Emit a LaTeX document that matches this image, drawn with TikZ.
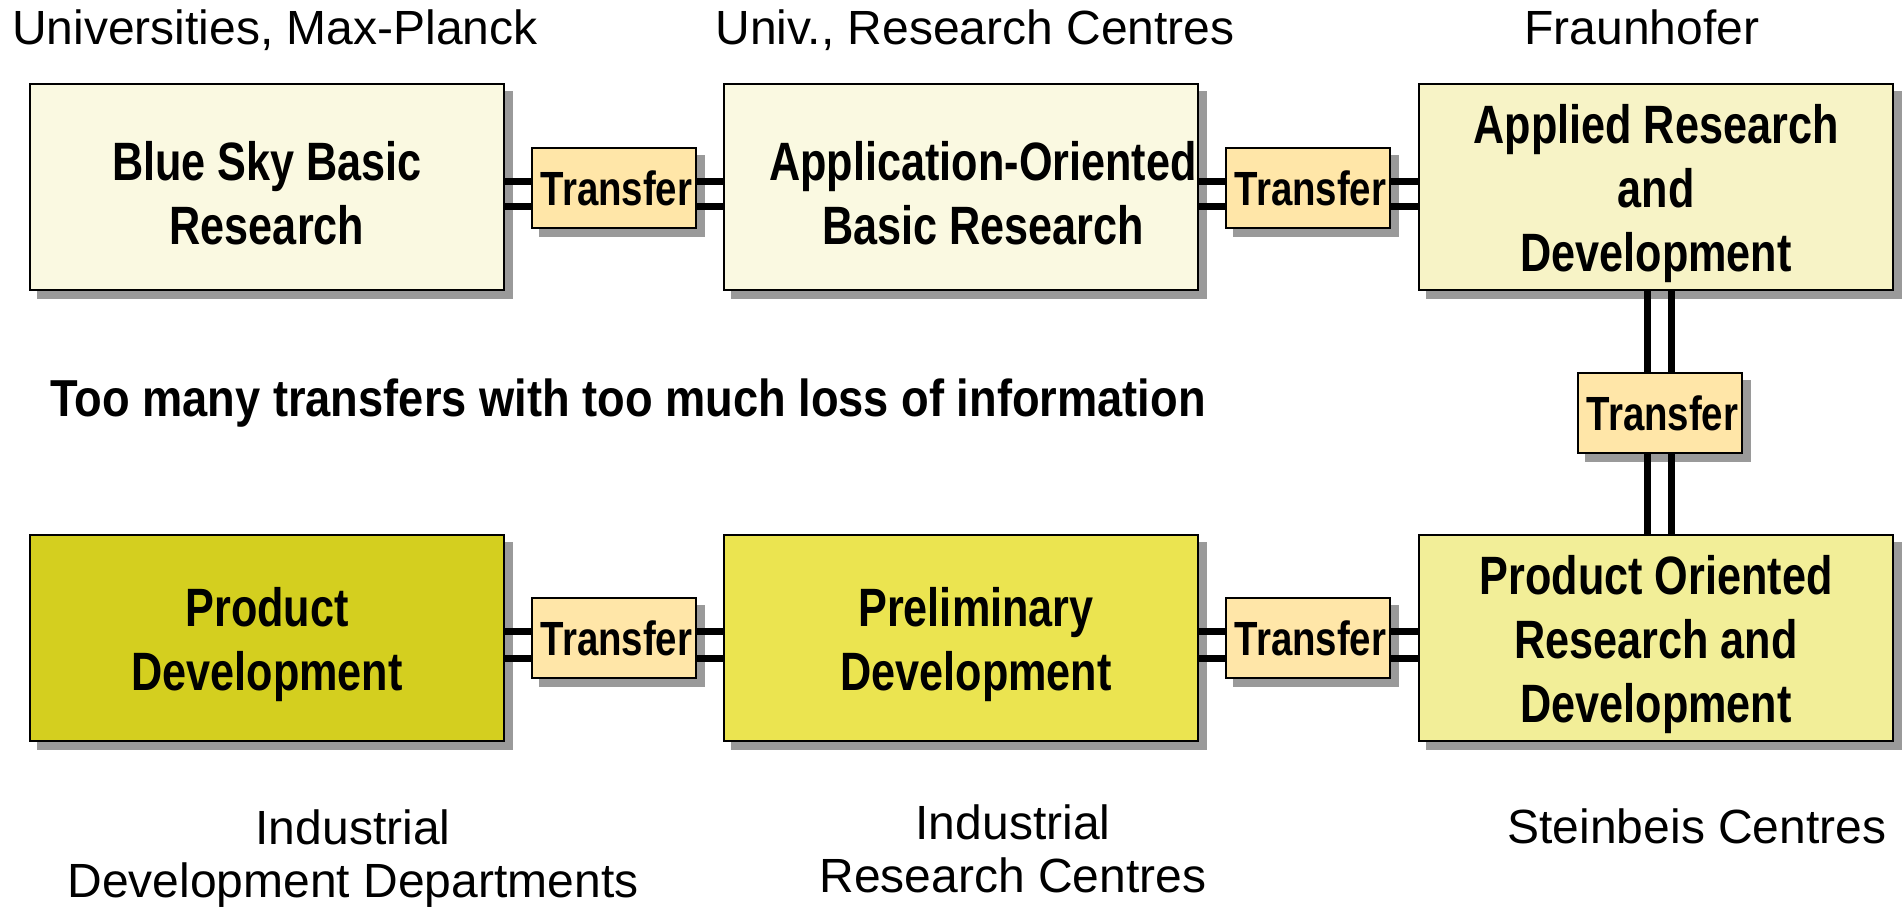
\documentclass[tikz,border=0pt]{standalone}
\usepackage{fontspec}
\setmainfont{Liberation Sans}
\newfontfamily\condfont[FakeStretch=0.8]{Liberation Sans}
\newfontfamily\stmtfont[FakeStretch=0.87]{Liberation Sans}
\newcommand\firstlinestrut{\rule{0pt}{52pt}}

\pgfdeclarelayer{shadowlayer}
\pgfdeclarelayer{linelayer}
\pgfsetlayers{shadowlayer,linelayer,main}

\definecolor{boxA}{HTML}{FAF9E1}
\definecolor{boxB}{HTML}{F7F3C6}
\definecolor{boxC}{HTML}{D4CF1F}
\definecolor{boxD}{HTML}{EBE450}
\definecolor{boxE}{HTML}{F2EE98}
\definecolor{xfer}{HTML}{FFE6A8}
\definecolor{shadowgray}{HTML}{9A9A9A}

\begin{document}
\begin{tikzpicture}[x=1pt,y=-1pt,
  bigbox/.style={draw=black, line width=2.6pt, minimum width=474pt, minimum height=206pt,
    inner sep=0pt, align=center, font=\condfont\bfseries\fontsize{54}{64}\selectfont},
  xferbox/.style={draw=black, fill=xfer, line width=2.6pt, minimum width=164pt, minimum height=80pt,
    inner sep=0pt, font=\condfont\bfseries\fontsize{48}{56}\selectfont},
  caption/.style={font=\fontsize{48}{53}\selectfont, inner sep=0pt, anchor=base},
  link/.style={line width=7pt},
  dropshadow/.style={fill=shadowgray}]
\useasboundingbox (0,0) rectangle (1903,907);

% main boxes
\node[bigbox, fill=boxA] (b1) at (267,187) {\firstlinestrut Blue Sky Basic\\Research};
\node[bigbox, fill=boxA] (b2) at (961,187) {\firstlinestrut\hspace*{44pt}Application-Oriented\\\hspace*{44pt}Basic Research};
\node[bigbox, fill=boxB] (b3) at (1656,187) {\firstlinestrut Applied Research\\and\\Development};
\node[bigbox, fill=boxC] (b4) at (267,638) {\firstlinestrut Product\\Development};
\node[bigbox, fill=boxD] (b5) at (961,638) {\firstlinestrut\hspace*{30pt}Preliminary\\\hspace*{30pt}Development};
\node[bigbox, fill=boxE] (b6) at (1656,638) {\firstlinestrut Product Oriented\\Research and\\Development};

% transfer boxes
\node[xferbox] (t1) at (614,188) {\hspace*{5pt}Transfer};
\node[xferbox] (t2) at (1308,188) {\hspace*{5pt}Transfer};
\node[xferbox] (t3) at (614,638) {\hspace*{5pt}Transfer};
\node[xferbox] (t4) at (1308,638) {\hspace*{5pt}Transfer};
\node[xferbox] (t5) at (1660,413) {\hspace*{5pt}Transfer};

% shadows
\begin{pgfonlayer}{shadowlayer}
\foreach \n in {b1,b2,b3,b4,b5,b6,t1,t2,t3,t4,t5}
  \fill[dropshadow] ([shift={(8,8)}]\n.north west) rectangle ([shift={(8,8)}]\n.south east);
\end{pgfonlayer}

% double connectors
\begin{pgfonlayer}{linelayer}
\draw[link] ([yshift=6pt]b1.east) -- ([yshift=6pt]b2.west);
\draw[link] ([yshift=-19pt]b1.east) -- ([yshift=-19pt]b2.west);
\draw[link] ([yshift=6pt]b2.east) -- ([yshift=6pt]b3.west);
\draw[link] ([yshift=-19pt]b2.east) -- ([yshift=-19pt]b3.west);
\draw[link] ([yshift=7pt]b4.east) -- ([yshift=7pt]b5.west);
\draw[link] ([yshift=-20pt]b4.east) -- ([yshift=-20pt]b5.west);
\draw[link] ([yshift=7pt]b5.east) -- ([yshift=7pt]b6.west);
\draw[link] ([yshift=-20pt]b5.east) -- ([yshift=-20pt]b6.west);
\draw[link] ([xshift=-9pt]b3.south) -- ([xshift=-9pt]b6.north);
\draw[link] ([xshift=15pt]b3.south) -- ([xshift=15pt]b6.north);
\end{pgfonlayer}

% captions
\node[caption] (c1) at (275,45) {Universities, Max-Planck};
\node[caption] (c2) at (975,45) {Univ., Research Centres};
\node[caption] (c3) at (1642,45) {Fraunhofer};
\node[caption, align=center] (c4) at (353,897) {Industrial\\Development Departments};
\node[caption, align=center] (c5) at (1013,892) {Industrial\\Research Centres};
\node[caption] (c6) at (1697,843) {Steinbeis Centres};

\node[font=\stmtfont\bfseries\fontsize{52}{60}\selectfont, inner sep=0pt, anchor=base] (st) at (628,416)
  {Too many transfers with too much loss of information};
\end{tikzpicture}
\end{document}
